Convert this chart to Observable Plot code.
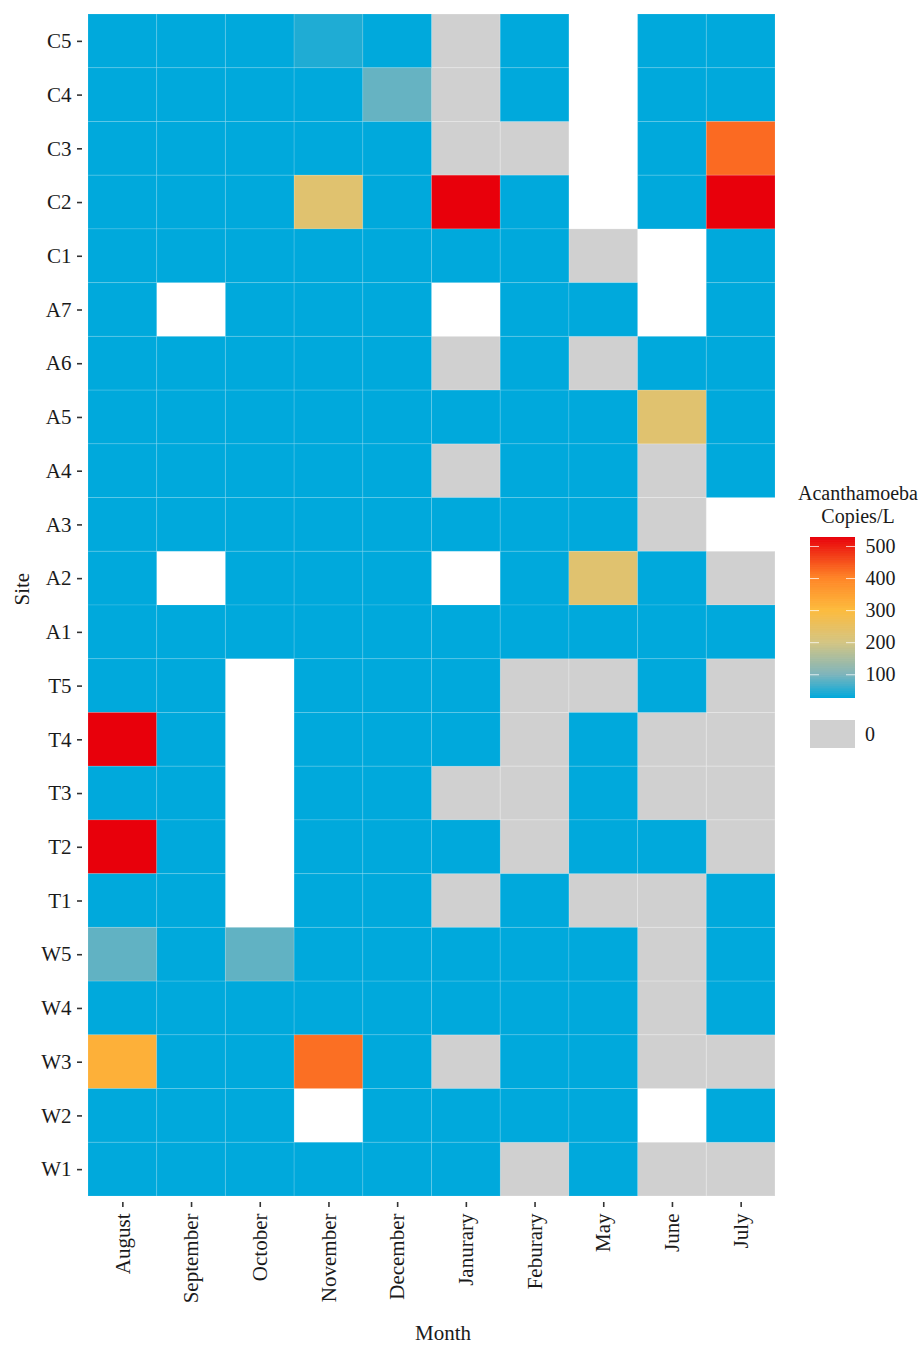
<!DOCTYPE html>
<html>
<head>
<meta charset="utf-8">
<script src="https://cdn.jsdelivr.net/npm/d3@7"></script>
<script src="https://cdn.jsdelivr.net/npm/@observablehq/plot@0.6"></script>
<style>
  body { margin: 0; background: #fff; font-family: "Liberation Serif", "Times New Roman", serif; }
  #wrap { position: relative; width: 921px; height: 1345px; }
  #wrap > * { position: absolute; }
  .legend-title { left: 795px; top: 482px; width: 126px; text-align: center; font-size: 20px; line-height: 23px; color: #1a1a1a; }
  .zero-swatch { left: 810px; top: 720px; width: 45px; height: 28px; }
  .zero-label { left: 865px; top: 722px; font-size: 20px; line-height: 24px; color: #1a1a1a; }
</style>
</head>
<body>
<div id="wrap"></div>
<script>
// Sampling months (columns) and sites (rows, top to bottom)
const months = ["August", "September", "October", "November", "December", "Janurary", "Feburary", "May", "June", "July"];
const sites = ["C5", "C4", "C3", "C2", "C1", "A7", "A6", "A5", "A4", "A3", "A2", "A1",
               "T5", "T4", "T3", "T2", "T1", "W5", "W4", "W3", "W2", "W1"];

// Acanthamoeba copies/L per site, one value per month; 0 = not detected, null = no sample
const copiesPerL = [
  [26, 26, 26, 44, 26, 0, 26, null, 26, 26],        // C5
  [26, 26, 26, 26, 85, 0, 26, null, 26, 26],        // C4
  [26, 26, 26, 26, 26, 0, 0, null, 26, 425],        // C3
  [26, 26, 26, 228, 26, 528, 26, null, 26, 528],    // C2
  [26, 26, 26, 26, 26, 26, 26, 0, null, 26],        // C1
  [26, null, 26, 26, 26, null, 26, 26, null, 26],   // A7
  [26, 26, 26, 26, 26, 0, 26, 0, 26, 26],           // A6
  [26, 26, 26, 26, 26, 26, 26, 26, 228, 26],        // A5
  [26, 26, 26, 26, 26, 0, 26, 26, 0, 26],           // A4
  [26, 26, 26, 26, 26, 26, 26, 26, 0, null],        // A3
  [26, null, 26, 26, 26, null, 26, 228, 26, 0],     // A2
  [26, 26, 26, 26, 26, 26, 26, 26, 26, 26],         // A1
  [26, 26, null, 26, 26, 26, 0, 0, 26, 0],          // T5
  [528, 26, null, 26, 26, 26, 0, 26, 0, 0],         // T4
  [26, 26, null, 26, 26, 0, 0, 26, 0, 0],           // T3
  [528, 26, null, 26, 26, 26, 0, 26, 26, 0],        // T2
  [26, 26, null, 26, 26, 0, 26, 0, 0, 26],          // T1
  [82, 26, 82, 26, 26, 26, 26, 26, 0, 26],          // W5
  [26, 26, 26, 26, 26, 26, 26, 26, 0, 26],          // W4
  [320, 26, 26, 420, 26, 0, 26, 26, 0, 0],          // W3
  [26, 26, 26, null, 26, 26, 26, 26, null, 26],     // W2
  [26, 26, 26, 26, 26, 26, 0, 26, 0, 0]             // W1
];

// Colour gradient stops (copies/L) and legend ticks
const colorStops = [26, 100, 200, 300, 400, 528];
const colorRange = ["#00a9dc", "#80b5bb", "#d5c582", "#fdbb3d", "#ff8427", "#e8000b"];
const legendTicks = [100, 200, 300, 400, 500];
const zeroColor = "#d0d0d0";

const cells = sites.flatMap((site, i) =>
  months.map((month, j) => ({site, month, value: copiesPerL[i][j]}))
).filter(d => d.value != null);

const color = {type: "linear", domain: colorStops, range: colorRange, interpolate: "rgb"};
const font = "Liberation Serif";
const ink = "#1a1a1a";

const chart = Plot.plot({
  width: 921,
  height: 1345,
  marginLeft: 88,
  marginRight: 146,
  marginTop: 14,
  marginBottom: 149,
  style: {fontFamily: font, fontSize: "21px", color: ink, background: "transparent", overflow: "visible"},
  x: {domain: months, padding: 0, round: false},
  y: {domain: sites, padding: 0, round: false},
  color,
  marks: [
    Plot.cell(cells.filter(d => d.value === 0), {x: "month", y: "site", fill: zeroColor, stroke: "white", strokeOpacity: 0.22}),
    Plot.cell(cells.filter(d => d.value > 0), {x: "month", y: "site", fill: "value", stroke: "white", strokeOpacity: 0.12}),
    Plot.axisX({tickSize: 5, tickPadding: 6, tickRotate: -90, dy: 6, stroke: "#333", strokeWidth: 1.6, fill: ink, label: null}),
    Plot.axisY({tickSize: 5, tickPadding: 6, dx: -6, stroke: "#333", strokeWidth: 1.6, fill: ink, label: null}),
    Plot.text(["Month"], {frameAnchor: "bottom", dy: 143, dx: 11, lineAnchor: "bottom", fill: ink, fontSize: 21}),
    Plot.text(["Site"], {frameAnchor: "left", dx: -60, rotate: -90, lineAnchor: "bottom", fill: ink, fontSize: 21})
  ]
});
chart.style.left = "0px";
chart.style.top = "0px";

// Vertical colour bar for the gradient legend
const step = 2;
const ramp = d3.range(colorStops[0], colorStops[colorStops.length - 1], step)
  .map(v => ({v, v2: Math.min(v + 2 * step, colorStops[colorStops.length - 1])}));

const legend = Plot.plot({
  width: 126,
  height: 181,
  marginLeft: 15,
  marginRight: 66,
  marginTop: 10,
  marginBottom: 10,
  style: {fontFamily: font, fontSize: "20px", color: ink, background: "transparent", overflow: "visible"},
  x: {domain: [0, 1], axis: null},
  y: {domain: [colorStops[0], colorStops[colorStops.length - 1]]},
  color,
  marks: [
    Plot.rect(ramp, {x1: () => 0, x2: () => 1, y1: "v", y2: "v2", fill: "v"}),
    Plot.ruleY(legendTicks, {x1: () => 0, x2: () => 0.2, stroke: "white", strokeOpacity: 0.75}),
    Plot.ruleY(legendTicks, {x1: () => 0.8, x2: () => 1, stroke: "white", strokeOpacity: 0.75}),
    Plot.axisY(legendTicks, {anchor: "right", tickSize: 0, tickPadding: 10, fill: ink, label: null})
  ]
});
legend.style.left = "795px";
legend.style.top = "527px";

const wrap = document.getElementById("wrap");
wrap.appendChild(chart);
wrap.appendChild(legend);

const title = document.createElement("div");
title.className = "legend-title";
title.innerHTML = "Acanthamoeba<br>Copies/L";
wrap.appendChild(title);

const swatch = document.createElement("div");
swatch.className = "zero-swatch";
swatch.style.background = zeroColor;
wrap.appendChild(swatch);

const zero = document.createElement("div");
zero.className = "zero-label";
zero.textContent = "0";
wrap.appendChild(zero);
</script>
</body>
</html>
